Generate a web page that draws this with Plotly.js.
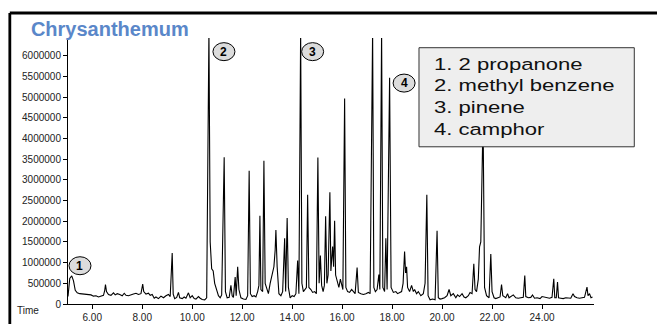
<!DOCTYPE html>
<html>
<head>
<meta charset="utf-8">
<script src="https://cdn.plot.ly/plotly-3.0.1.min.js"></script>
<style>
html,body{margin:0;padding:0;background:#fff;}
#chart{width:657px;height:324px;}
</style>
</head>
<body>
<div id="chart"></div>
<script>
// Retention time (min)
var times = [
5.03,5.10,5.18,5.25,5.32,5.40,5.50,5.62,5.75,5.85,5.95,6.05,6.15,6.25,6.35,6.45,6.50,6.53,6.57,6.65,
6.75,6.85,6.92,7.00,7.10,7.20,7.28,7.35,7.45,7.55,7.65,7.75,7.85,7.95,8.02,8.06,8.15,8.25,8.32,8.40,
8.48,8.55,8.65,8.75,8.85,8.95,9.05,9.12,9.20,9.24,9.30,9.38,9.45,9.50,9.60,9.68,9.75,9.85,9.92,10.00,
10.08,10.15,10.25,10.32,10.40,10.50,10.58,10.67,10.72,10.78,10.84,10.90,10.98,11.05,11.12,11.18,11.28,11.33,11.40,11.48,
11.55,11.60,11.65,11.72,11.76,11.82,11.87,11.95,12.05,12.15,12.22,12.28,12.33,12.40,12.48,12.55,12.62,12.67,12.71,12.75,
12.82,12.87,12.92,12.98,13.05,13.12,13.20,13.27,13.32,13.35,13.40,13.47,13.55,13.62,13.70,13.74,13.80,13.85,13.92,14.00,
14.08,14.15,14.22,14.27,14.34,14.39,14.45,14.52,14.57,14.62,14.67,14.75,14.82,14.90,14.97,15.03,15.08,15.13,15.18,15.24,
15.29,15.34,15.39,15.44,15.51,15.55,15.59,15.62,15.66,15.70,15.74,15.80,15.87,15.93,15.98,16.03,16.10,16.15,16.22,16.30,
16.38,16.45,16.52,16.60,16.65,16.75,16.85,16.95,17.05,17.12,17.22,17.27,17.33,17.40,17.47,17.51,17.58,17.63,17.70,17.75,
17.80,17.90,17.96,18.05,18.15,18.22,18.30,18.38,18.44,18.50,18.54,18.58,18.62,18.70,18.78,18.85,18.90,18.98,19.05,19.15,
19.25,19.32,19.39,19.44,19.52,19.62,19.72,19.80,19.85,19.92,20.00,20.10,20.20,20.28,20.35,20.45,20.55,20.62,20.70,20.80,
20.88,20.95,21.05,21.12,21.20,21.27,21.32,21.38,21.45,21.50,21.55,21.64,21.70,21.78,21.88,21.95,22.00,22.08,22.15,22.25,
22.32,22.38,22.43,22.55,22.62,22.68,22.78,22.85,22.95,23.05,23.15,23.25,23.31,23.35,23.45,23.55,23.62,23.70,23.80,23.92,
24.00,24.10,24.20,24.30,24.40,24.47,24.51,24.57,24.62,24.66,24.75,24.85,24.95,25.05,25.15,25.24,25.30,25.40,25.50,25.60,
25.70,25.80,25.84,25.90,25.96,26.02
];
// Abundance
var abundance = [
180000,620000,680000,560000,330000,270000,250000,240000,230000,210000,220000,190000,200000,170000,190000,210000,330000,470000,300000,230000,
210000,270000,220000,250000,230000,200000,260000,210000,200000,230000,240000,260000,230000,250000,480000,300000,240000,260000,210000,230000,
140000,170000,130000,190000,150000,200000,230000,180000,1230000,240000,130000,160000,280000,150000,130000,170000,140000,270000,150000,200000,
130000,120000,180000,140000,110000,100000,150000,6600000,1500000,850000,800000,500000,300000,200000,150000,220000,3550000,300000,150000,160000,
450000,200000,160000,650000,200000,900000,350000,150000,120000,110000,200000,3220000,250000,180000,200000,170000,300000,450000,2130000,350000,
300000,3460000,500000,400000,250000,500000,750000,900000,1300000,1790000,900000,250000,200000,300000,1590000,300000,2080000,400000,150000,200000,
180000,250000,1050000,250000,6600000,500000,300000,350000,400000,2640000,400000,350000,280000,300000,250000,3540000,500000,1170000,450000,300000,
450000,2120000,500000,700000,2700000,800000,1200000,1390000,900000,2010000,700000,550000,400000,600000,450000,350000,4970000,400000,300000,280000,
350000,300000,250000,880000,280000,250000,230000,250000,280000,250000,6600000,400000,300000,350000,710000,350000,6600000,400000,300000,1590000,
350000,5470000,400000,280000,300000,250000,270000,300000,500000,1270000,750000,900000,400000,300000,450000,300000,350000,250000,300000,200000,
250000,500000,2640000,200000,100000,120000,100000,1770000,150000,120000,130000,150000,200000,350000,200000,250000,150000,220000,180000,250000,
170000,150000,200000,280000,250000,970000,350000,300000,600000,1380000,1500000,4500000,400000,200000,150000,1210000,300000,150000,130000,150000,
170000,470000,200000,150000,250000,150000,180000,220000,150000,140000,150000,160000,690000,180000,150000,160000,220000,140000,150000,130000,
180000,170000,150000,140000,160000,610000,150000,150000,530000,150000,140000,130000,150000,150000,140000,250000,180000,150000,140000,150000,
160000,410000,200000,250000,150000,170000
];
var yTickVals = [0,500000,1000000,1500000,2000000,2500000,3000000,3500000,4000000,4500000,5000000,5500000,6000000];
var yTickText = ["0","500000","1000000","1500000","2000000","2500000","3000000","3500000","4000000","4500000","5000000","5500000","6000000"];
var xTickVals = [6,8,10,12,14,16,18,20,22,24];
var xTickText = ["6.00","8.00","10.00","12.00","14.00","16.00","18.00","20.00","22.00","24.00"];
var peakLabels = ["1","2","3","4"];
var peakLabelX = [5.51,11.27,14.82,18.48];
var peakLabelY = [925000,6100000,6100000,5340000];
var compounds = ["1. 2 propanone","2. methyl benzene","3. pinene","4. camphor"];

var FONT = "Arial, 'Liberation Sans', sans-serif";

var trace = {
  x: times, y: abundance, type: 'scatter', mode: 'lines',
  line: {color: '#000', width: 1.1}, hoverinfo: 'skip'
};

var shapes = [];
var annotations = [];
for (var i = 0; i < peakLabels.length; i++) {
  shapes.push({type:'circle', xref:'x', yref:'y', xsizemode:'pixel', ysizemode:'pixel',
    xanchor: peakLabelX[i], yanchor: peakLabelY[i], x0:-11, x1:11, y0:-9, y1:9,
    fillcolor:'#dcdcdc', line:{color:'#000', width:1}, layer:'above'});
  annotations.push({xref:'x', yref:'y', x: peakLabelX[i], y: peakLabelY[i],
    text: '<b>' + peakLabels[i] + '</b>', showarrow:false,
    font:{family:FONT, size:12, color:'#000'}});
}
// legend box
shapes.push({type:'rect', xref:'paper', yref:'paper', x0:0.6673, x1:1.0766, y0:0.591, y1:0.9635,
  fillcolor:'#eeeeee', line:{color:'#333', width:1}, layer:'above'});
var legendLineY = [0.901, 0.820, 0.738, 0.656];
for (var k = 0; k < compounds.length; k++) {
  annotations.push({xref:'paper', yref:'paper', x:0.692, y:legendLineY[k], xanchor:'left', yanchor:'middle',
    align:'left', showarrow:false, text: compounds[k], name:'legendline',
    font:{family:FONT, size:17, color:'#111'}});
}
// outer frame
shapes.push({type:'line', xref:'paper', yref:'paper', x0:-0.1106, x1:1.13, y0:1.094, y1:1.094,
  line:{color:'#000', width:2.8}});
shapes.push({type:'line', xref:'paper', yref:'paper', x0:-0.1106, x1:-0.1106, y0:1.094, y1:-0.1,
  line:{color:'#000', width:2.8}});
// "Time" label
annotations.push({xref:'paper', yref:'paper', x:-0.076, y:-0.026, xanchor:'center', yanchor:'middle',
  text:'Time', showarrow:false, font:{family:FONT, size:10, color:'#222'}});

var layout = {
  width: 657, height: 324,
  margin: {l:68, r:63, t:38, b:20, pad:0},
  paper_bgcolor: '#fff', plot_bgcolor: '#fff',
  showlegend: false,
  title: {text:'<b>Chrysanthemum</b>', xref:'container', yref:'container', x:0.047, xanchor:'left',
    y:0.91, yanchor:'middle', font:{family:FONT, size:20, color:'#5a87c9'}},
  xaxis: {range:[5.03, 26.08], tickvals:xTickVals, ticktext:xTickText, showgrid:false, zeroline:false,
    showline:true, linecolor:'#000', linewidth:1, ticks:'outside', ticklen:4, tickcolor:'#000',
    tickfont:{family:FONT, size:10, color:'#222'}, fixedrange:true},
  yaxis: {range:[0, 6430000], tickvals:yTickVals, ticktext:yTickText, showgrid:false, zeroline:false,
    showline:true, linecolor:'#000', linewidth:1, ticks:'outside', ticklen:4, tickcolor:'#000',
    tickfont:{family:FONT, size:10, color:'#222'}, fixedrange:true},
  shapes: shapes,
  annotations: annotations
};

Plotly.newPlot('chart', [trace], layout, {staticPlot:true, displayModeBar:false}).then(function(){
  // the reference legend text is horizontally widened; stretch those text lines
  var texts = document.querySelectorAll('.annotation-text');
  texts.forEach(function(t){
    if (compounds.indexOf(t.textContent) >= 0) {
      t.style.transformBox = 'fill-box';
      t.style.transformOrigin = 'left center';
      t.style.transform = 'scaleX(1.3)';
    }
  });
});
</script>
</body>
</html>
